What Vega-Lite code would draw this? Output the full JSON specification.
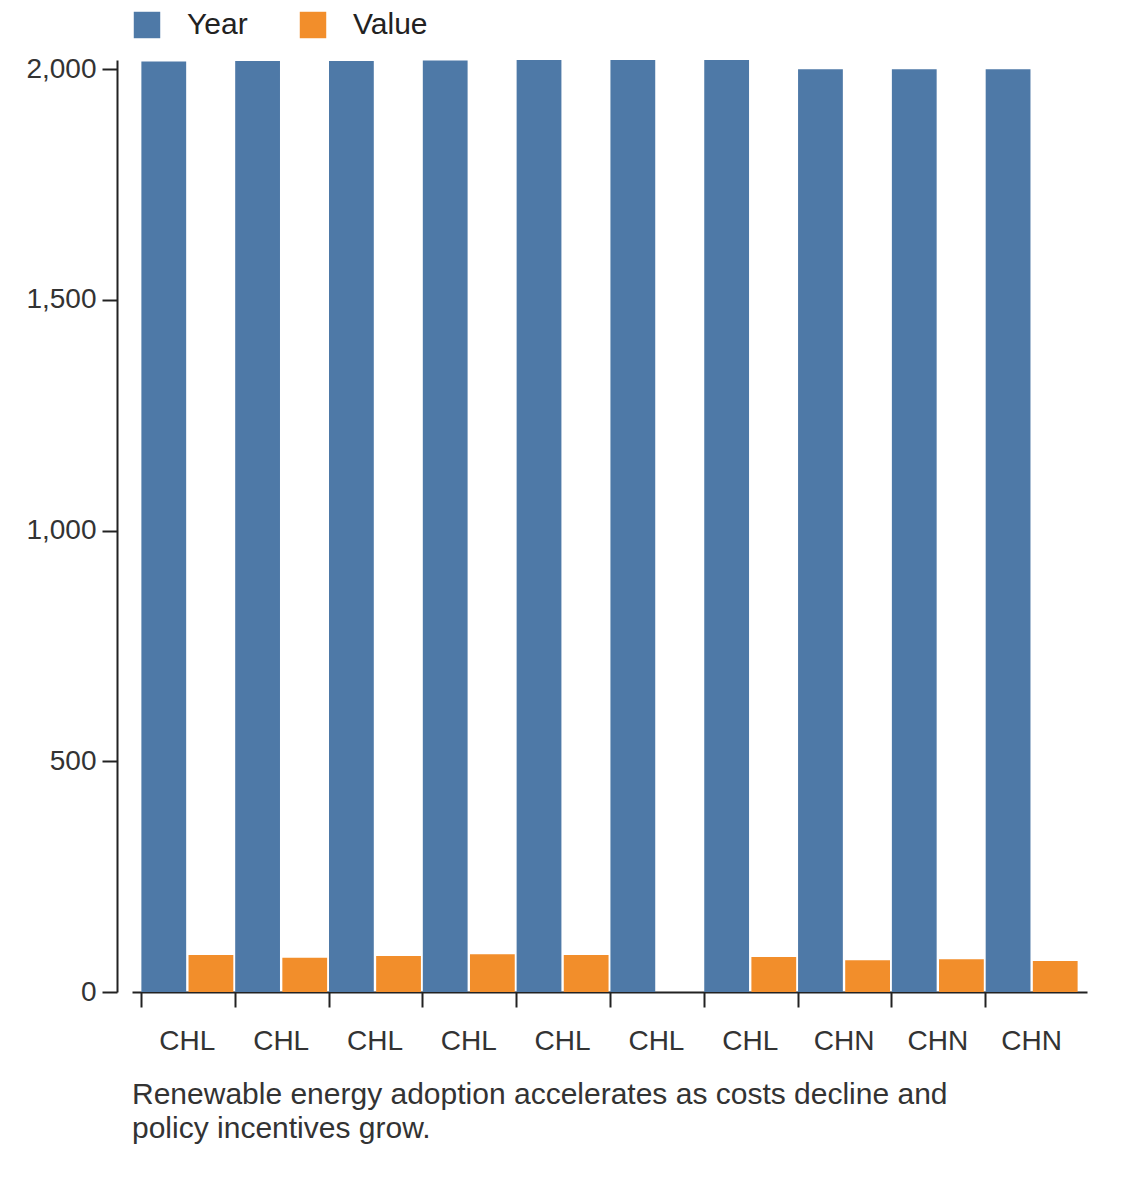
{
  "$schema": "https://vega.github.io/schema/vega-lite/v6.json",
  "width": 955,
  "height": 932,
  "padding": {"left": 25, "top": 10, "right": 20, "bottom": 10},
  "config": {
    "font": "Liberation Sans",
    "view": {"stroke": null},
    "axis": {"labelFontSize": 28, "labelColor": "#333", "domainColor": "#222", "tickColor": "#222", "grid": false, "domainWidth": 2, "tickWidth": 2}
  },
  "title": {"text": ["Renewable energy adoption accelerates as costs decline and", "policy incentives grow."], "orient": "bottom", "anchor": "start", "frame": "group", "fontSize": 30, "fontWeight": "normal", "color": "#333", "offset": 25, "lineHeight": 34},
  "data": {"values": [
    {"id": "1", "country": "CHL", "Year": 2017, "Value": 80},
    {"id": "2", "country": "CHL", "Year": 2018, "Value": 74},
    {"id": "3", "country": "CHL", "Year": 2018, "Value": 78},
    {"id": "4", "country": "CHL", "Year": 2019, "Value": 82},
    {"id": "5", "country": "CHL", "Year": 2020, "Value": 80},
    {"id": "6", "country": "CHL", "Year": 2020, "Value": null},
    {"id": "7", "country": "CHL", "Year": 2020, "Value": 76},
    {"id": "8", "country": "CHN", "Year": 2000, "Value": 69},
    {"id": "9", "country": "CHN", "Year": 2000, "Value": 71},
    {"id": "10", "country": "CHN", "Year": 2000, "Value": 67}
  ]},
  "transform": [{"fold": ["Year", "Value"], "as": ["series", "amount"]}],
  "mark": {"type": "bar"},
  "encoding": {
    "x": {"field": "id", "type": "nominal", "sort": null, "title": null,
      "scale": {"paddingInner": 0.02, "paddingOuter": 0.1},
      "axis": {"labelExpr": "datum.value <= 7 ? 'CHL' : 'CHN'", "labelAngle": 0, "bandPosition": 0, "tickSize": 15, "labelPadding": 20, "labelAlign": "center", "labelDx": 47, "offset": 0}},
    "xOffset": {"field": "series", "type": "nominal", "sort": ["Year", "Value"], "scale": {"paddingInner": 0.05}},
    "y": {"field": "amount", "type": "quantitative", "title": null,
      "scale": {"domain": [0, 2020], "nice": false},
      "axis": {"values": [0, 500, 1000, 1500, 2000], "format": ",.0f", "tickSize": 15, "labelPadding": 6, "offset": 15}},
    "color": {"field": "series", "type": "nominal", "sort": ["Year", "Value"],
      "scale": {"domain": ["Year", "Value"], "range": ["#4e79a7", "#f28e2b"]},
      "legend": {"orient": "top", "direction": "horizontal", "title": null, "labelFontSize": 30, "symbolType": "square", "symbolSize": 700, "symbolOpacity": 1, "columnPadding": 50, "labelOffset": 25, "labelColor": "#222", "offset": 20}}
  }
}
